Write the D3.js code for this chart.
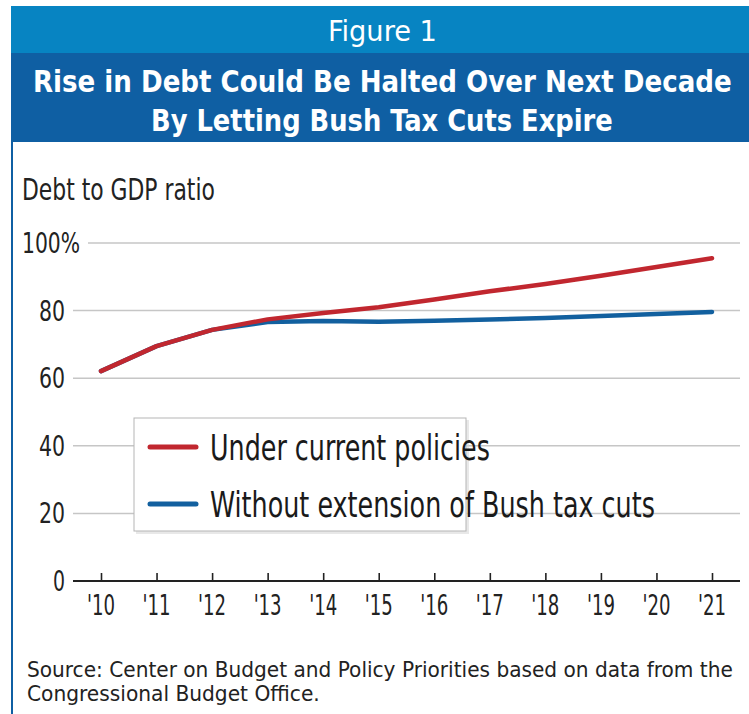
<!DOCTYPE html>
<html>
<head>
<meta charset="utf-8">
<script src="https://cdn.jsdelivr.net/npm/d3@7"></script>
<style>
  body { margin: 0; background: #fff; }
  text { font-family: "DejaVu Sans Condensed", "Liberation Sans Narrow", sans-serif; font-stretch: condensed; }
</style>
</head>
<body>
<div id="chart"></div>
<script>
// years on the x axis and debt-to-GDP values (%)
var years = ["'10", "'11", "'12", "'13", "'14", "'15", "'16", "'17", "'18", "'19", "'20", "'21"];
var currentPolicies = [62.1, 69.5, 74.3, 77.4, 79.3, 81, 83.3, 85.7, 87.9, 90.3, 92.9, 95.5];
var withoutExtension = [62.1, 69.5, 74.3, 76.6, 76.9, 76.7, 77, 77.4, 77.8, 78.4, 79, 79.6];
var yTicks = [0, 20, 40, 60, 80, 100];
var seriesNames = ["Under current policies", "Without extension of Bush tax cuts"];
var legendWidths = [280, 445];

var width = 749, height = 714;
var red = "#c1272f", blue = "#12609f";

var svg = d3.select("#chart").append("svg")
    .attr("width", width)
    .attr("height", height);

// squeeze a text horizontally into the width it has in the picture
function fit(sel, x, y, len) {
    var w = sel.node().getComputedTextLength();
    return sel.attr("x", 0).attr("y", 0)
        .attr("transform", "translate(" + x + "," + y + ") scale(" + (len / w) + ",1)");
}

// header bands
svg.append("rect").attr("x", 11).attr("y", 6).attr("width", width - 11).attr("height", 47).attr("fill", "#0784c2");
svg.append("rect").attr("x", 11).attr("y", 53).attr("width", width - 11).attr("height", 89).attr("fill", "#0f5fa3");
svg.append("rect").attr("x", 11).attr("y", 142).attr("width", 2).attr("height", height - 142).attr("fill", "#0f5fa3");

fit(svg.append("text").attr("fill", "#fff").attr("font-size", 29).text("Figure 1"), 328, 41, 109);
fit(svg.append("text").attr("fill", "#fff").attr("font-size", 31).attr("font-weight", "bold")
    .text("Rise in Debt Could Be Halted Over Next Decade"), 33, 92, 699);
fit(svg.append("text").attr("fill", "#fff").attr("font-size", 31).attr("font-weight", "bold")
    .text("By Letting Bush Tax Cuts Expire"), 151, 131, 462);

fit(svg.append("text").attr("fill", "#222").attr("font-size", 31).text("Debt to GDP ratio"), 22, 200, 193);

var x = d3.scalePoint().domain(years).range([101, 712]);
var y = d3.scaleLinear().domain([0, 100]).range([581, 243]);

// gridlines + y labels
var g = svg.append("g");
g.selectAll("line.grid").data(yTicks.filter(function(d) { return d > 0; })).enter()
  .append("line")
    .attr("x1", function(d) { return d == 100 ? 88 : 73; })
    .attr("x2", 740)
    .attr("y1", function(d) { return y(d); })
    .attr("y2", function(d) { return y(d); })
    .attr("stroke", "#c6c6c6").attr("stroke-width", 1.5);

g.selectAll("text.ylab").data(yTicks).enter()
  .append("text")
    .attr("x", function(d) { return d == 100 ? 80 : 65; })
    .attr("y", function(d) { return y(d) + 10; })
    .attr("text-anchor", "end")
    .attr("font-size", 28).attr("fill", "#222")
    .attr("textLength", function(d) { return d == 100 ? 58 : (d == 0 ? 12 : 26); })
    .attr("lengthAdjust", "spacingAndGlyphs")
    .text(function(d) { return d == 100 ? "100%" : d; });

// x axis
var xAxis = svg.append("g")
    .attr("transform", "translate(0," + y(0) + ")")
    .call(d3.axisTop(x).tickSize(8).tickFormat(""));
xAxis.select(".domain").remove();
xAxis.selectAll(".tick line").attr("stroke", "#222").attr("stroke-width", 1.6);
svg.append("line").attr("x1", 73).attr("x2", 740).attr("y1", y(0)).attr("y2", y(0))
    .attr("stroke", "#222").attr("stroke-width", 2);

svg.selectAll("text.xlab").data(years).enter()
  .append("text")
    .attr("x", function(d) { return x(d); })
    .attr("y", 615)
    .attr("text-anchor", "middle")
    .attr("font-size", 28).attr("fill", "#222")
    .attr("textLength", 28).attr("lengthAdjust", "spacingAndGlyphs")
    .text(function(d) { return d; });

// lines
var line = d3.line()
    .x(function(d, i) { return x(years[i]); })
    .y(function(d) { return y(d); });

svg.append("path").datum(withoutExtension).attr("d", line)
    .attr("fill", "none").attr("stroke", blue).attr("stroke-width", 4.5)
    .attr("stroke-linecap", "round").attr("stroke-linejoin", "round");
svg.append("path").datum(currentPolicies).attr("d", line)
    .attr("fill", "none").attr("stroke", red).attr("stroke-width", 4.5)
    .attr("stroke-linecap", "round").attr("stroke-linejoin", "round");

// legend
var lg = svg.append("g");
lg.append("rect").attr("x", 136).attr("y", 420).attr("width", 333).attr("height", 114)
    .attr("fill", "#d8d8d8").attr("opacity", 0.6);
lg.append("rect").attr("x", 134).attr("y", 418).attr("width", 332).attr("height", 113)
    .attr("fill", "#fff").attr("stroke", "#b5b5b5").attr("stroke-width", 1);

seriesNames.forEach(function(name, i) {
    var cy = 447 + i * 57;
    lg.append("line").attr("x1", 150).attr("x2", 196).attr("y1", cy).attr("y2", cy)
        .attr("stroke", i == 0 ? red : blue)
        .attr("stroke-width", 5).attr("stroke-linecap", "round");
    fit(lg.append("text").attr("font-size", 36).attr("fill", "#1a1a1a").text(name),
        210, cy + 13, legendWidths[i]);
});

// source
fit(svg.append("text").attr("font-size", 21).attr("fill", "#222")
    .text("Source: Center on Budget and Policy Priorities based on data from the"), 27, 677, 706);
fit(svg.append("text").attr("font-size", 21).attr("fill", "#222")
    .text("Congressional Budget Office."), 27, 701, 293);
</script>
</body>
</html>
